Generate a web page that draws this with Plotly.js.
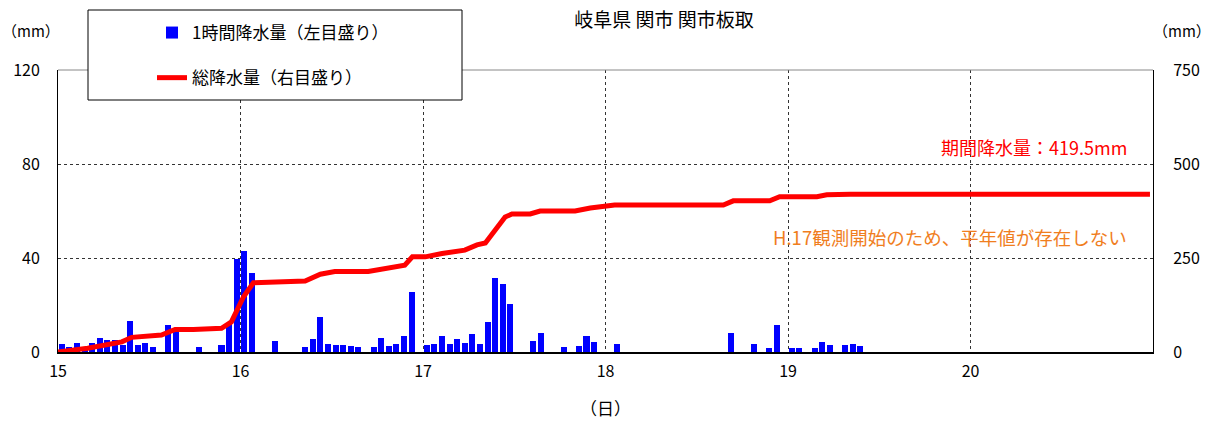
<!DOCTYPE html>
<html>
<head>
<meta charset="utf-8">
<script src="https://cdn.plot.ly/plotly-3.0.1.min.js"></script>
<style>html,body{margin:0;padding:0;background:#fff;}#chart{width:1214px;height:423px;}</style>
</head>
<body>
<div id="chart"></div>
<script>
// hour index from 15th 00:00 (0..143) and hourly rainfall (mm)
const barHours = [0,1,2,3,4,5,6,7,8,9,10,11,12,14,15,18,21,22,23,24,25,28,32,33,34,35,36,37,38,39,41,42,43,44,45,46,48,49,50,51,52,53,54,55,56,57,58,59,62,63,66,68,69,70,73,88,91,93,94,96,97,99,100,101,103,104,105];
const barValues = [3.5,2,4,1.5,4,6,5,5,3,13,3,4,2,11.5,9,2,3,12,39.5,43,33.5,4.7,2,5.5,15,3.5,3,3,2.5,2,2,6,2.5,3.5,7,25.5,3,3.5,7,3.5,5.5,4,7.5,3.5,12.8,31.6,29,20.3,4.7,8,2,2.5,7,4.3,3.5,8,3.5,1.8,11.5,1.8,1.8,1.8,4.3,3,3,3.5,2.5];
// cumulative rainfall line (hours, mm)
const cumHours = [0,3.9,8.4,9.7,13.6,15.4,17.8,21.5,22.8,24.4,25.7,28.3,32.5,34.5,36.4,40.8,43.9,45.6,46.6,48.3,50.5,53.5,55.1,56.2,57,57.9,58.8,59.7,62.1,63.4,68,70,71.9,73.2,87.5,88.8,93.6,94.9,99.8,101.1,104.2,143.6];
const cumValues = [0,10,27,39,45,60,60,63,80,147,184,187,189,207,214,214,223,231,253,253,262,271,285,290,311,335,359,367,367,375,375,383,388,391,391,402,402,413,413,418,419.5,419.5];
const dayTicks = [0,24,48,72,96,120];
const dayLabels = ['15','16','17','18','19','20'];
const leftTicks = [0,40,80,120];
const rightTicks = [0,250,500,750];
const titleText = '岐阜県 関市 関市板取';
const barName = '1時間降水量（左目盛り）';
const lineName = '総降水量（右目盛り）';
const totalText = '期間降水量：419.5mm';
const noteText = 'H.17観測開始のため、平年値が存在しない';

const F = '"Noto Sans CJK JP", "Noto Sans", sans-serif';
const W = 1214, H = 423, L = 58, R = 61, T = 70, B = 71;
const pw = W - L - R, ph = H - T - B;
const px = x => (x - L) / pw;          // page x -> paper x
const py = y => (H - B - y) / ph;      // page y -> paper y

const traces = [
  {type:'bar', x: barHours.map(h => h + 0.5), y: barValues, width: 0.8,
   marker:{color:'#0000FF', line:{width:0}}, name: barName, legendgroup:'a', yaxis:'y'},
  {type:'scatter', mode:'lines', x: cumHours, y: cumValues, line:{color:'#FF0000', width:5},
   name: lineName, legendgroup:'b', yaxis:'y2'}
];

const layout = {
  width: W, height: H,
  margin:{l:L, r:R, t:T, b:B, pad:0},
  paper_bgcolor:'#fff', plot_bgcolor:'#fff',
  font:{family:F, size:15, color:'#000'},
  title:{text:titleText, font:{family:F, size:19, color:'#000'}, xref:'paper', x: px(664), xanchor:'center', yref:'container', y: 1 - 20/H, yanchor:'middle'},
  showlegend:true,
  legend:{x: px(152), xanchor:'left', y: py(15), yanchor:'top', bgcolor:'rgba(0,0,0,0)', borderwidth:0,
          font:{family:F, size:17, color:'#000'}, tracegroupgap: 20, traceorder:'grouped'},
  xaxis:{range:[0,144], tickvals: dayTicks, ticktext: dayLabels, showgrid:true, gridcolor:'#333', griddash:'dot', gridwidth:1,
         showline:true, linecolor:'#000', linewidth:1.5, zeroline:false, ticks:'', ticklabelstandoff: 4, tickfont:{family:F, size:16},
         title:{text:'（日）', font:{family:F, size:17}, standoff: 22}},
  yaxis:{range:[0,120], tickvals: leftTicks, showgrid:true, gridcolor:'#333', griddash:'dot', gridwidth:1,
         showline:true, linecolor:'#000', linewidth:1, zeroline:false, ticks:'', ticklabelstandoff: 14, tickfont:{family:F, size:16}},
  yaxis2:{range:[0,750], tickvals: rightTicks, overlaying:'y', side:'right', showgrid:false,
          showline:true, linecolor:'#000', linewidth:1, zeroline:false, ticks:'', ticklabelstandoff: 16, tickfont:{family:F, size:16}},
  shapes:[
    {type:'line', xref:'paper', yref:'paper', x0:0, x1:1, y0:1, y1:1, line:{color:'#888', width:1}, layer:'above'},
    {type:'rect', xref:'paper', yref:'paper', x0: px(88), x1: px(462), y0: py(100), y1: py(10),
     line:{color:'#000', width:1}, fillcolor:'#fff', layer:'above'}
  ],
  annotations:[
    {text:'（mm）', xref:'paper', yref:'paper', x: px(31), xanchor:'center', y: py(30), yanchor:'middle', showarrow:false, font:{family:F, size:15}},
    {text:'（mm）', xref:'paper', yref:'paper', x: px(1182), xanchor:'center', y: py(30), yanchor:'middle', showarrow:false, font:{family:F, size:15}},
    {text: totalText, xref:'paper', yref:'paper', x: px(1129), xanchor:'right', y: py(147), yanchor:'middle', showarrow:false, font:{family:F, size:18, color:'#FF0000'}},
    {text: noteText, xref:'paper', yref:'paper', x: px(1129), xanchor:'right', y: py(237), yanchor:'middle', showarrow:false, font:{family:F, size:18.5, color:'#F07E1E'}}
  ],
  bargap: 0
};

Plotly.newPlot('chart', traces, layout, {displayModeBar:false, staticPlot:true});
</script>
</body>
</html>
